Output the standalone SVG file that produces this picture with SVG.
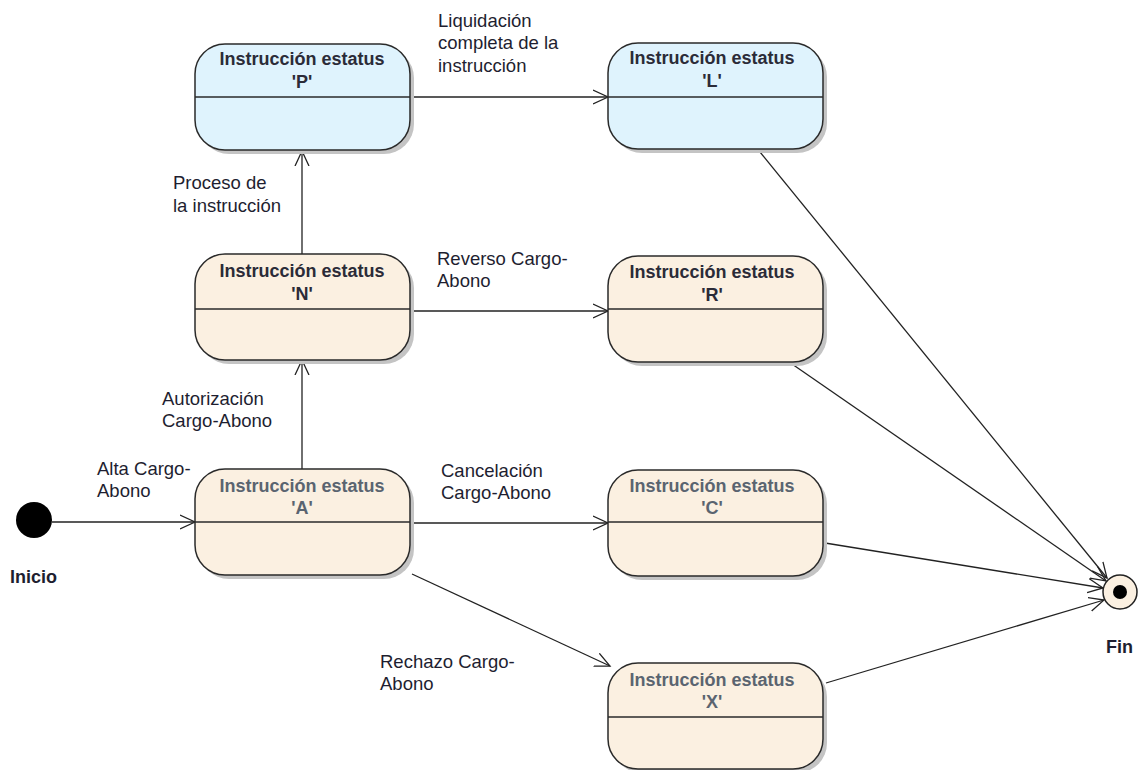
<svg xmlns="http://www.w3.org/2000/svg" width="1138" height="770" viewBox="0 0 1138 770">
<style>
.shadow{fill:#c4c4c4}
.box{stroke:#2a2a2a;stroke-width:1.5}
.blue{fill:#dff3fd}
.beige{fill:#fbf0e1}
.div{stroke:#2a2a2a;stroke-width:1.3}
.t{font-family:"Liberation Sans",Arial,sans-serif;font-weight:bold;font-size:18px;text-anchor:middle}
.dark{fill:#2b2b38}
.gray{fill:#5a6470}
.lbl{font-family:"Liberation Sans",Arial,sans-serif;font-size:18.5px;fill:#1e1e30}
.term{font-family:"Liberation Sans",Arial,sans-serif;font-weight:bold;font-size:18px;fill:#1e1e30}
.edge{stroke:#222;stroke-width:1.3;fill:none;marker-end:url(#arr)}
</style>
<defs>
<marker id="arr" markerUnits="userSpaceOnUse" markerWidth="20" markerHeight="20" refX="15" refY="8" orient="auto">
<path d="M0,1 L15,8 L0,15" fill="none" stroke="#222" stroke-width="1.3"/>
</marker>
</defs>
<rect width="1138" height="770" fill="#ffffff"/>

<g id="connectors">
<line class="edge" x1="52" y1="522" x2="195" y2="522"/>
<line class="edge" x1="302" y1="469" x2="302" y2="360"/>
<line class="edge" x1="302" y1="254" x2="302" y2="151"/>
<line class="edge" x1="410" y1="97" x2="608" y2="97"/>
<line class="edge" x1="410" y1="311" x2="608" y2="311"/>
<line class="edge" x1="410" y1="523" x2="608" y2="523"/>
<line class="edge" x1="412" y1="574" x2="610" y2="666"/>
<line class="edge" x1="760" y1="152" x2="1107" y2="578"/>
<line class="edge" x1="792" y1="364" x2="1106" y2="581"/>
<line class="edge" x1="825" y1="543" x2="1103" y2="588"/>
<line class="edge" x1="826" y1="683" x2="1104" y2="600"/>
<g id="labels">
<text class="lbl" x="438" y="27">Liquidación</text>
<text class="lbl" x="438" y="49">completa de la</text>
<text class="lbl" x="438" y="72">instrucción</text>
<text class="lbl" x="173" y="189">Proceso de</text>
<text class="lbl" x="173" y="212">la instrucción</text>
<text class="lbl" x="437" y="265">Reverso Cargo-</text>
<text class="lbl" x="437" y="287">Abono</text>
<text class="lbl" x="162" y="405">Autorización</text>
<text class="lbl" x="162" y="427">Cargo-Abono</text>
<text class="lbl" x="97" y="475">Alta Cargo-</text>
<text class="lbl" x="97" y="497">Abono</text>
<text class="lbl" x="441" y="477">Cancelación</text>
<text class="lbl" x="441" y="499">Cargo-Abono</text>
<text class="lbl" x="380" y="668">Rechazo Cargo-</text>
<text class="lbl" x="380" y="690">Abono</text>
</g>
</g>

<g id="inicio">
<circle cx="34" cy="520" r="18" fill="#000"/>
<text class="term" x="10" y="583">Inicio</text>
</g>

<g id="fin">
<circle cx="1120" cy="592" r="17" fill="#fbf0e1" stroke="#222" stroke-width="1.5"/>
<circle cx="1120" cy="592" r="7" fill="#000"/>
<text class="term" x="1106" y="653">Fin</text>
</g>

<g id="state-P">
<rect class="shadow" x="199" y="48" width="215" height="106" rx="30"/>
<rect class="box blue" x="195" y="44" width="215" height="106" rx="30"/>
<line class="div" x1="195" y1="97" x2="410" y2="97"/>
<text class="t dark" x="302" y="65">Instrucción estatus</text>
<text class="t dark" x="302" y="88">'P'</text>
</g>

<g id="state-L">
<rect class="shadow" x="612" y="47" width="215" height="106" rx="30"/>
<rect class="box blue" x="608" y="43" width="215" height="106" rx="30"/>
<line class="div" x1="608" y1="97" x2="823" y2="97"/>
<text class="t dark" x="712" y="64">Instrucción estatus</text>
<text class="t dark" x="712" y="87">'L'</text>
</g>

<g id="state-N">
<rect class="shadow" x="199" y="258" width="215" height="106" rx="30"/>
<rect class="box beige" x="195" y="254" width="215" height="106" rx="30"/>
<line class="div" x1="195" y1="309" x2="410" y2="309"/>
<text class="t dark" x="302" y="277">Instrucción estatus</text>
<text class="t dark" x="302" y="300">'N'</text>
</g>

<g id="state-R">
<rect class="shadow" x="612" y="260" width="215" height="106" rx="30"/>
<rect class="box beige" x="608" y="256" width="215" height="106" rx="30"/>
<line class="div" x1="608" y1="309" x2="823" y2="309"/>
<text class="t dark" x="712" y="278">Instrucción estatus</text>
<text class="t dark" x="712" y="301">'R'</text>
</g>

<g id="state-A">
<rect class="shadow" x="199" y="473" width="215" height="106" rx="30"/>
<rect class="box beige" x="195" y="469" width="215" height="106" rx="30"/>
<line class="div" x1="195" y1="522" x2="410" y2="522"/>
<text class="t gray" x="302" y="492">Instrucción estatus</text>
<text class="t gray" x="302" y="514">'A'</text>
</g>

<g id="state-C">
<rect class="shadow" x="612" y="474" width="215" height="106" rx="30"/>
<rect class="box beige" x="608" y="470" width="215" height="106" rx="30"/>
<line class="div" x1="608" y1="522" x2="823" y2="522"/>
<text class="t gray" x="712" y="492">Instrucción estatus</text>
<text class="t gray" x="712" y="514">'C'</text>
</g>

<g id="state-X">
<rect class="shadow" x="612" y="667" width="215" height="106" rx="30"/>
<rect class="box beige" x="608" y="663" width="215" height="106" rx="30"/>
<line class="div" x1="608" y1="717" x2="823" y2="717"/>
<text class="t gray" x="712" y="686">Instrucción estatus</text>
<text class="t gray" x="712" y="708">'X'</text>
</g>
</svg>
